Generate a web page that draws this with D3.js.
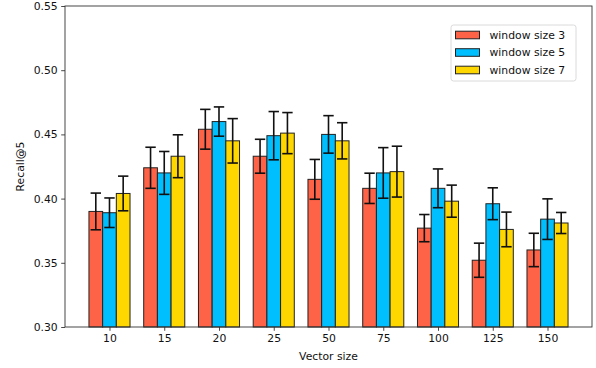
<!DOCTYPE html>
<html>
<head>
<meta charset="utf-8">
<script src="https://cdn.jsdelivr.net/npm/d3@7"></script>
<style>
  body { margin: 0; background: #fff; }
  text { font-family: "DejaVu Sans", sans-serif; }
</style>
</head>
<body>
<div id="main"></div>
<script>
// vector sizes along the x axis
var categories = ["10", "15", "20", "25", "50", "75", "100", "125", "150"];
var seriesNames = ["window size 3", "window size 5", "window size 7"];
var seriesColors = ["#ff6347", "#00bfff", "#ffd700"];

// Recall@5 means
var ws3 = [0.390, 0.424, 0.454, 0.433, 0.415, 0.408, 0.377, 0.352, 0.360];
var ws5 = [0.389, 0.420, 0.460, 0.449, 0.450, 0.420, 0.408, 0.396, 0.384];
var ws7 = [0.404, 0.433, 0.445, 0.451, 0.445, 0.421, 0.398, 0.376, 0.381];

// half length of each error bar
var err3 = [0.0143, 0.0160, 0.0155, 0.0132, 0.0155, 0.0118, 0.0106, 0.0133, 0.0130];
var err5 = [0.0115, 0.0167, 0.0114, 0.0188, 0.0146, 0.0197, 0.0151, 0.0124, 0.0158];
var err7 = [0.0135, 0.0167, 0.0173, 0.0160, 0.0141, 0.0198, 0.0125, 0.0135, 0.0082];

var yTicks = [0.30, 0.35, 0.40, 0.45, 0.50, 0.55];

var values = [ws3, ws5, ws7];
var errors = [err3, err5, err7];

var width = 596, height = 368;
var margin = {left: 65, right: 4, top: 6, bottom: 41};
var plotW = width - margin.left - margin.right;
var plotH = height - margin.top - margin.bottom;

var svg = d3.select("#main")
        .append("svg")
        .attr("width", width)
        .attr("height", height);

var g = svg.append("g")
        .attr("transform", "translate(" + margin.left + "," + margin.top + ")");

var barW = 0.25;
// same padding matplotlib puts around the bars
var x = d3.scaleLinear()
        .domain([-0.8125, categories.length - 1 + 0.8125])
        .range([0, plotW]);
var y = d3.scaleLinear().domain([0.30, 0.55]).range([plotH, 0]);

var bars = [];
values.forEach(function(vals, s) {
    vals.forEach(function(v, i) {
        bars.push({s: s, i: i, v: v, e: errors[s][i], cx: i + (s - 1) * barW});
    });
});

g.selectAll("rect.bar")
    .data(bars)
    .enter()
    .append("rect")
    .attr("class", "bar")
    .attr("x", function(d) { return x(d.cx - barW / 2); })
    .attr("width", function(d) { return x(barW) - x(0); })
    .attr("y", function(d) { return y(d.v); })
    .attr("height", function(d) { return plotH - y(d.v); })
    .attr("fill", function(d) { return seriesColors[d.s]; })
    .attr("stroke", "#222")
    .attr("stroke-width", 1);

var errG = g.selectAll("g.err")
        .data(bars)
        .enter()
        .append("g")
        .attr("class", "err")
        .attr("stroke", "#111")
        .attr("stroke-width", 1.6);

errG.append("line")
    .attr("x1", function(d) { return x(d.cx); })
    .attr("x2", function(d) { return x(d.cx); })
    .attr("y1", function(d) { return y(d.v + d.e); })
    .attr("y2", function(d) { return y(d.v - d.e); });

[1, -1].forEach(function(sign) {
    errG.append("line")
        .attr("x1", function(d) { return x(d.cx) - 5.2; })
        .attr("x2", function(d) { return x(d.cx) + 5.2; })
        .attr("y1", function(d) { return y(d.v + sign * d.e); })
        .attr("y2", function(d) { return y(d.v + sign * d.e); });
});

// frame
g.append("rect")
    .attr("width", plotW)
    .attr("height", plotH)
    .attr("fill", "none")
    .attr("stroke", "#333")
    .attr("stroke-width", 0.9);

var xAxis = g.append("g")
        .attr("transform", "translate(0," + plotH + ")")
        .call(d3.axisBottom(x)
              .tickValues(d3.range(categories.length))
              .tickFormat(function(i) { return categories[i]; })
              .tickSize(3.8)
              .tickPadding(3.5));

var yAxis = g.append("g")
        .call(d3.axisLeft(y)
              .tickValues(yTicks)
              .tickFormat(d3.format(".2f"))
              .tickSize(3.8)
              .tickPadding(3.5));

[xAxis, yAxis].forEach(function(ax) {
    ax.select(".domain").remove();
    ax.selectAll("text")
        .attr("fill", "#111")
        .style("font-size", "10.8px")
        .style("font-family", "DejaVu Sans");
    ax.selectAll("line").attr("stroke", "#333").attr("stroke-width", 0.9);
});

svg.append("text")
    .attr("x", margin.left + plotW / 2)
    .attr("y", 360)
    .attr("text-anchor", "middle")
    .style("font-size", "10.8px")
    .attr("fill", "#111")
    .text("Vector size");

svg.append("text")
    .attr("transform", "translate(24," + (margin.top + plotH / 2) + ") rotate(-90)")
    .attr("text-anchor", "middle")
    .style("font-size", "10.8px")
    .attr("fill", "#111")
    .text("Recall@5");

// legend
var legend = svg.append("g").attr("transform", "translate(451,25)");
legend.append("rect")
    .attr("width", 125)
    .attr("height", 56)
    .attr("rx", 2.5)
    .attr("fill", "#fff")
    .attr("fill-opacity", 0.8)
    .attr("stroke", "#d6d6d6")
    .attr("stroke-width", 0.9);

var items = legend.selectAll("g.item")
        .data(seriesNames)
        .enter()
        .append("g")
        .attr("class", "item")
        .attr("transform", function(d, i) { return "translate(0," + (10 + i * 17.5) + ")"; });

items.append("rect")
    .attr("x", 4.5)
    .attr("y", -3.8)
    .attr("width", 24)
    .attr("height", 7.6)
    .attr("fill", function(d, i) { return seriesColors[i]; })
    .attr("stroke", "#222")
    .attr("stroke-width", 1);

items.append("text")
    .attr("x", 38.5)
    .attr("y", 0)
    .attr("dy", "0.36em")
    .style("font-size", "10.8px")
    .attr("fill", "#111")
    .text(function(d) { return d; });
</script>
</body>
</html>
